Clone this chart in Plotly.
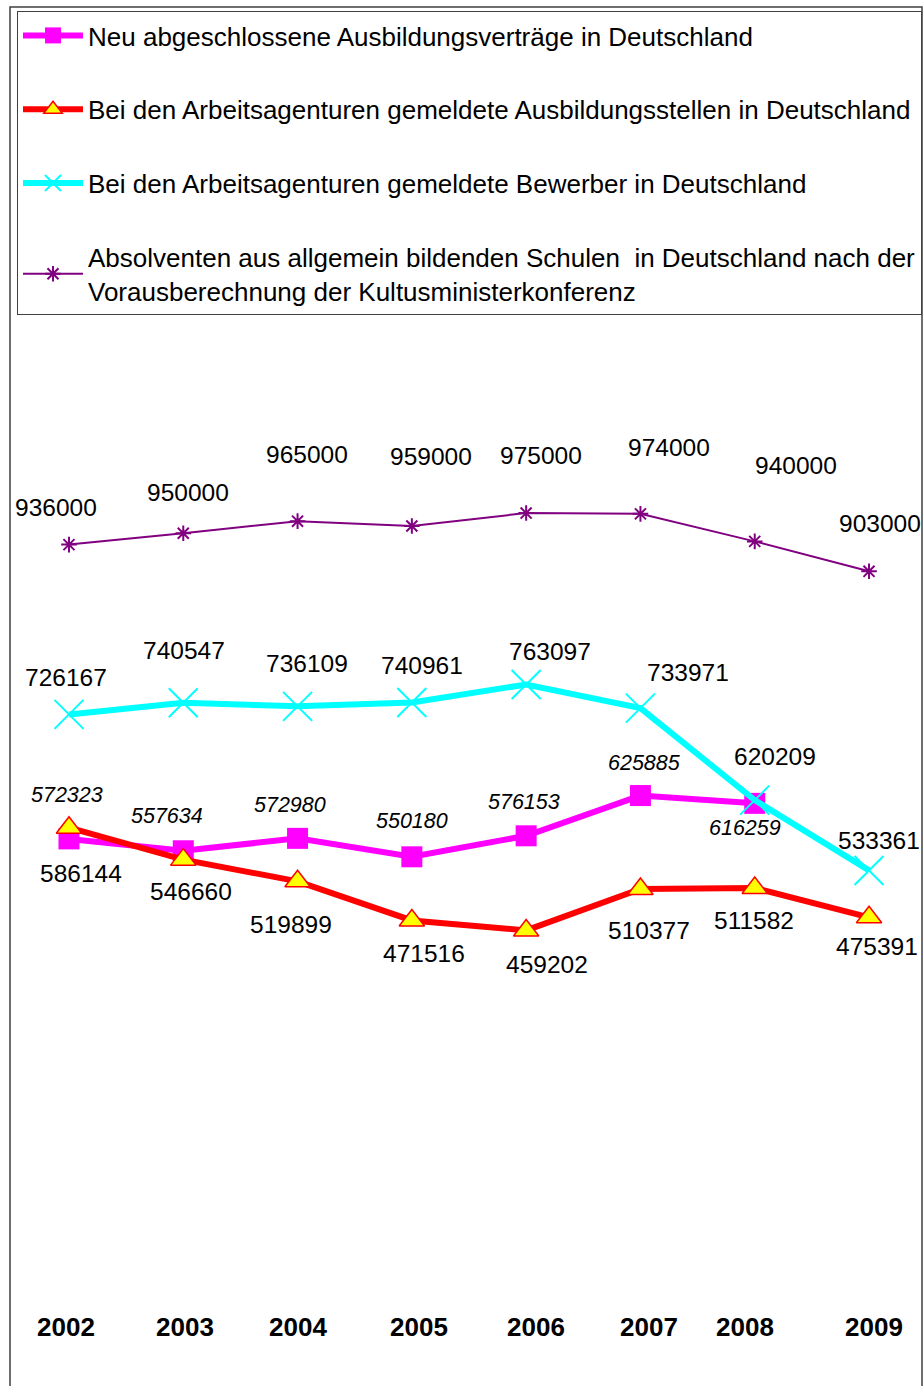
import plotly.graph_objects as go

# ---------------- data ----------------
years = [2002, 2003, 2004, 2005, 2006, 2007, 2008, 2009]
years_vertraege = [2002, 2003, 2004, 2005, 2006, 2007, 2008]
vertraege = [572323, 557634, 572980, 550180, 576153, 625885, 616259]
stellen = [586144, 546660, 519899, 471516, 459202, 510377, 511582, 475391]
bewerber = [726167, 740547, 736109, 740961, 763097, 733971, 620209, 533361]
absolventen = [936000, 950000, 965000, 959000, 975000, 974000, 940000, 903000]
year_labels = ["2002", "2003", "2004", "2005", "2006", "2007", "2008", "2009"]

names = [
    "Neu abgeschlossene Ausbildungsverträge in Deutschland",
    "Bei den Arbeitsagenturen gemeldete Ausbildungsstellen in Deutschland",
    "Bei den Arbeitsagenturen gemeldete Bewerber in Deutschland",
    "Absolventen aus allgemein bildenden Schulen  in Deutschland nach der<br>Vorausberechnung der Kultusministerkonferenz",
]

# ---------------- label offsets (px: dx right, dy down) ----------------
off_vertraege = [(-2, -44), (-16, -35), (-8, -33), (0, -36), (-2, -34), (4, -33), (-10, 25)]
off_stellen = [(12, 46), (8, 32), (-7, 43), (12, 33), (21, 34), (9, 41), (-1, 32), (8, 29)]
off_bewerber = [(-3, -37), (1, -52), (9, -43), (10, -37), (24, -33), (48, -36), (20, -44), (10, -30)]
off_absolventen = [(-13, -37), (5, -41), (9, -67), (19, -70), (15, -58), (29, -66), (41, -76), (11, -48)]
off_years = [-3, 2, 0, 7, 10, 9, -10, 5]

FONT = "Liberation Sans, Arial, sans-serif"
W, H = 924, 1386
ML, MR, MT, MB = 10, 0, 331, 84

fig = go.Figure()

fig.add_trace(go.Scatter(
    x=years_vertraege, y=vertraege, name=names[0], mode="lines+markers",
    line=dict(color="#FF00FF", width=6),
    marker=dict(symbol="square", size=21, color="#FF00FF", line=dict(width=0)),
    legendgroup="a",
))
fig.add_trace(go.Scatter(
    x=years, y=stellen, name=names[1], mode="lines+markers",
    line=dict(color="#FF0000", width=6),
    marker=dict(symbol="triangle-up", size=22, color="#FFFF00", line=dict(color="#FF0000", width=1.5)),
    legendgroup="b",
))
fig.add_trace(go.Scatter(
    x=years, y=bewerber, name=names[2], mode="lines+markers",
    line=dict(color="#00FFFF", width=6),
    marker=dict(symbol="x-thin-open", size=29, color="#00FFFF", line=dict(color="#00FFFF", width=2)),
    legendgroup="c",
))
fig.add_trace(go.Scatter(
    x=years, y=absolventen, name=names[3], mode="lines+markers",
    line=dict(color="#800080", width=2),
    marker=dict(symbol="asterisk-open", size=13, color="#800080", line=dict(color="#800080", width=2)),
    legendgroup="d",
))

annotations = []
def add_labels(xs, vals, offs, size, italic):
    for xv, v, (dx, dy) in zip(xs, vals, offs):
        annotations.append(dict(
            x=xv, y=v, xref="x", yref="y", text=str(v), showarrow=False,
            xshift=dx, yshift=-dy,
            font=dict(family=FONT, size=size, color="black",
                      style="italic" if italic else "normal"),
        ))

add_labels(years_vertraege, vertraege, off_vertraege, 21.5, True)
add_labels(years, stellen, off_stellen, 24.5, False)
add_labels(years, bewerber, off_bewerber, 24.5, False)
add_labels(years, absolventen, off_absolventen, 24.5, False)

# year labels along the category axis
for xv, t, dx in zip(years, year_labels, off_years):
    annotations.append(dict(
        x=xv, y=0, xref="x", yref="paper", text=t, showarrow=False,
        xshift=dx, yshift=-25, yanchor="middle",
        font=dict(family=FONT, size=26, color="black", weight="bold"),
    ))

pw = W - ML - MR
ph = H - MT - MB
def px_x(p):  # screenshot pixel -> paper
    return (p - ML) / pw
def px_y(p):
    return (H - MB - p) / ph

fig.update_layout(
    width=W, height=H,
    margin=dict(l=ML, r=MR, t=MT, b=MB, autoexpand=False),
    paper_bgcolor="white", plot_bgcolor="white",
    annotations=annotations,
    showlegend=True,
    legend=dict(
        xref="paper", yref="paper",
        x=px_x(17), y=px_y(11), xanchor="left", yanchor="top",
        bgcolor="white", bordercolor="#404040", borderwidth=1,
        font=dict(family=FONT, size=26, color="black"),
        traceorder="grouped", tracegroupgap=37, itemwidth=60,
    ),
    xaxis=dict(
        range=[2001.484, 2009.481], tickvals=years,
        showgrid=False, zeroline=False, showline=False, ticks="", showticklabels=False,
    ),
    yaxis=dict(range=[0, 1200000], visible=False, showgrid=False, zeroline=False),
    shapes=[dict(
        type="rect", xref="paper", yref="paper",
        x0=px_x(10), x1=px_x(922), y0=px_y(1392), y1=px_y(7),
        line=dict(color="#404040", width=1.5), layer="below",
    )],
)

fig.write_html(
    "out.html",
    config={"displayModeBar": False},
    post_script="document.body.style.margin='0';document.body.style.overflow='hidden';",
)
